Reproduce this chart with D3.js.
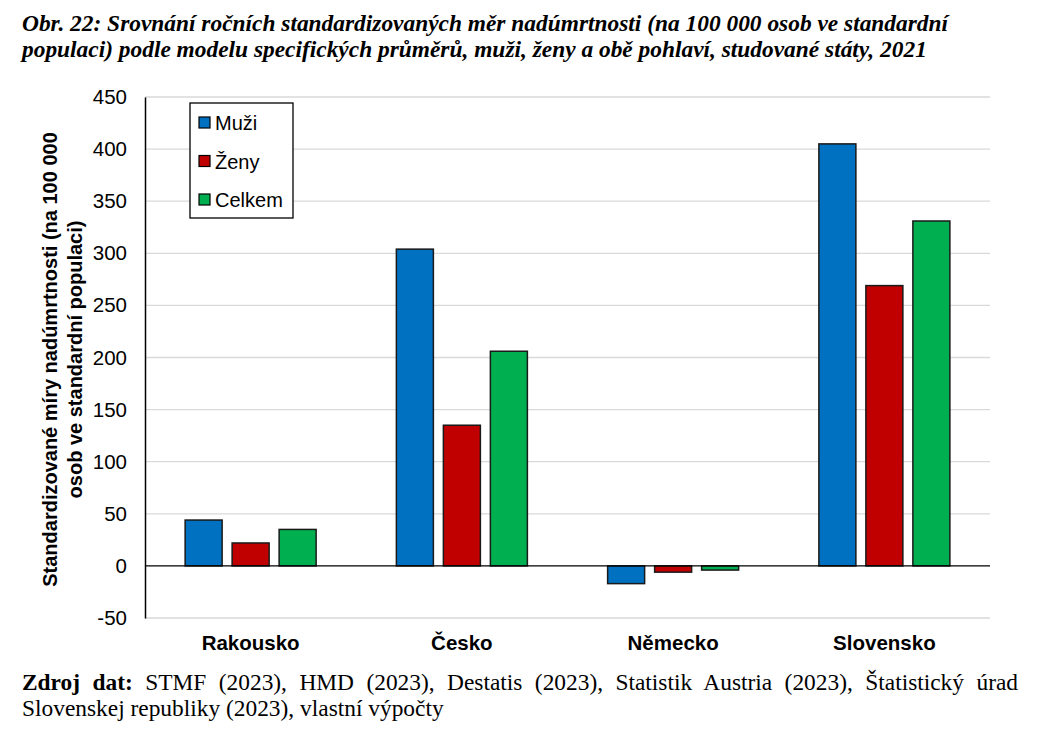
<!DOCTYPE html>
<html>
<head>
<meta charset="utf-8">
<script src="https://cdn.jsdelivr.net/npm/d3@7"></script>
<style>
  body { margin: 0; background: #fff; }
  svg { display: block; }
</style>
</head>
<body>
<div id="chart"></div>
<script>
// data
const countries = ["Rakousko", "Česko", "Německo", "Slovensko"];
const seriesNames = ["Muži", "Ženy", "Celkem"];
const muzi = [44, 304, -17, 405];
const zeny = [22, 135, -6, 269];
const celkem = [35, 206, -4, 331];
const yTicks = [-50, 0, 50, 100, 150, 200, 250, 300, 350, 400, 450];
const colors = ["#0070c0", "#c00000", "#00b050"];

const W = 1051, H = 734;
const margin = { left: 145, right: 61, top: 97, bottom: 116 };
const values = [muzi, zeny, celkem];
const sans = "Liberation Sans, Arial, sans-serif";
const serif = "Liberation Serif, Times New Roman, serif";

const svg = d3.select("#chart").append("svg")
    .attr("width", W)
    .attr("height", H);

// title
const title = svg.append("text")
    .attr("font-family", serif)
    .attr("font-weight", "bold")
    .attr("font-style", "italic")
    .attr("font-size", 23.4);
title.append("tspan").attr("x", 22).attr("y", 31)
    .text("Obr. 22: Srovnání ročních standardizovaných měr nadúmrtnosti (na 100 000 osob ve standardní");
title.append("tspan").attr("x", 22).attr("y", 57)
    .text("populaci) podle modelu specifických průměrů, muži, ženy a obě pohlaví, studované státy, 2021");

// scales
const x = d3.scaleBand()
    .domain(countries)
    .range([margin.left, W - margin.right])
    .paddingInner(0).paddingOuter(0);

const bw = x.bandwidth();
const xs = d3.scaleBand()
    .domain(seriesNames)
    .range([(bw - 141) / 2, (bw + 141) / 2])
    .paddingInner(10 / 47)
    .paddingOuter(5 / 47);

const y = d3.scaleLinear()
    .domain([-50, 450])
    .range([H - margin.bottom, margin.top]);

// gridlines
svg.append("g")
    .selectAll("line")
    .data(yTicks.filter(d => d !== 0))
    .enter().append("line")
    .attr("x1", margin.left).attr("x2", W - margin.right)
    .attr("y1", d => y(d)).attr("y2", d => y(d))
    .attr("stroke", "#d9d9d9")
    .attr("stroke-width", 1.3);

// y axis (plain hyphen for negatives like the original)
const yAxis = d3.axisLeft(y).tickValues(yTicks).tickSize(0).tickPadding(18)
    .tickFormat(d => String(d));
const gy = svg.append("g")
    .attr("transform", `translate(${margin.left},0)`)
    .call(yAxis);
gy.select(".domain").attr("stroke", "#000").attr("stroke-width", 1.5);
gy.selectAll("text")
    .attr("font-family", sans)
    .attr("font-size", 20.5)
    .attr("fill", "#000");

// bars
const groups = svg.append("g")
    .selectAll("g")
    .data(countries)
    .enter().append("g")
    .attr("transform", d => `translate(${x(d)},0)`);

groups.selectAll("rect")
    .data((c, i) => seriesNames.map((s, j) => ({ s: s, v: values[j][i], c: colors[j] })))
    .enter().append("rect")
    .attr("x", d => xs(d.s))
    .attr("width", xs.bandwidth())
    .attr("y", d => y(Math.max(0, d.v)))
    .attr("height", d => Math.abs(y(d.v) - y(0)))
    .attr("fill", d => d.c)
    .attr("stroke", "#1a1a1a")
    .attr("stroke-width", 1.5);

// zero line
svg.append("line")
    .attr("x1", margin.left).attr("x2", W - margin.right)
    .attr("y1", y(0)).attr("y2", y(0))
    .attr("stroke", "#000")
    .attr("stroke-width", 1.3);

// category labels
const xAxis = d3.axisBottom(x).tickSize(0).tickPadding(17);
const gx = svg.append("g")
    .attr("transform", `translate(0,${y(-50)})`)
    .call(xAxis);
gx.select(".domain").remove();
gx.selectAll("text")
    .attr("font-family", sans)
    .attr("font-size", 20.5)
    .attr("font-weight", "bold")
    .attr("fill", "#000");

// y axis title
const yTitle = svg.append("text")
    .attr("transform", `translate(57,${(margin.top + H - margin.bottom) / 2 + 2}) rotate(-90)`)
    .attr("text-anchor", "middle")
    .attr("font-family", sans)
    .attr("font-size", 20)
    .attr("font-weight", "bold");
yTitle.append("tspan").attr("x", 0).attr("y", 0).text("Standardizované míry nadúmrtnosti (na 100 000");
yTitle.append("tspan").attr("x", 0).attr("y", 25).text("osob ve standardní populaci)");

// legend
const legend = svg.append("g").attr("transform", "translate(190,103)");
legend.append("rect")
    .attr("width", 103).attr("height", 115)
    .attr("fill", "#fff")
    .attr("stroke", "#000")
    .attr("stroke-width", 1.3);
const items = legend.selectAll("g.item")
    .data(seriesNames)
    .enter().append("g")
    .attr("class", "item")
    .attr("transform", (d, i) => `translate(9,${14 + i * 38.5})`);
items.append("rect")
    .attr("width", 11).attr("height", 11)
    .attr("fill", (d, i) => colors[i])
    .attr("stroke", "#000")
    .attr("stroke-width", 1.2);
items.append("text")
    .attr("x", 16).attr("y", 13)
    .attr("font-family", sans)
    .attr("font-size", 20)
    .text(d => d);

// source note, first line justified to the full width
const src = svg.append("text")
    .attr("font-family", serif)
    .attr("font-size", 23.4);
const line1 = src.append("tspan").attr("x", 22).attr("y", 690);
line1.append("tspan").attr("font-weight", "bold").text("Zdroj dat: ");
line1.append("tspan").text("STMF (2023), HMD (2023), Destatis (2023), Statistik Austria (2023), Štatistický úrad");
src.append("tspan").attr("x", 22).attr("y", 716)
    .text("Slovenskej republiky (2023), vlastní výpočty");

// spread the words of line 1 so it ends at the right margin
const natural = line1.node().getComputedTextLength();
const gaps = (line1.text().match(/ /g) || []).length;
if (natural < 996 && gaps > 0) {
    line1.attr("word-spacing", (996 - natural) / gaps);
}
</script>
</body>
</html>
